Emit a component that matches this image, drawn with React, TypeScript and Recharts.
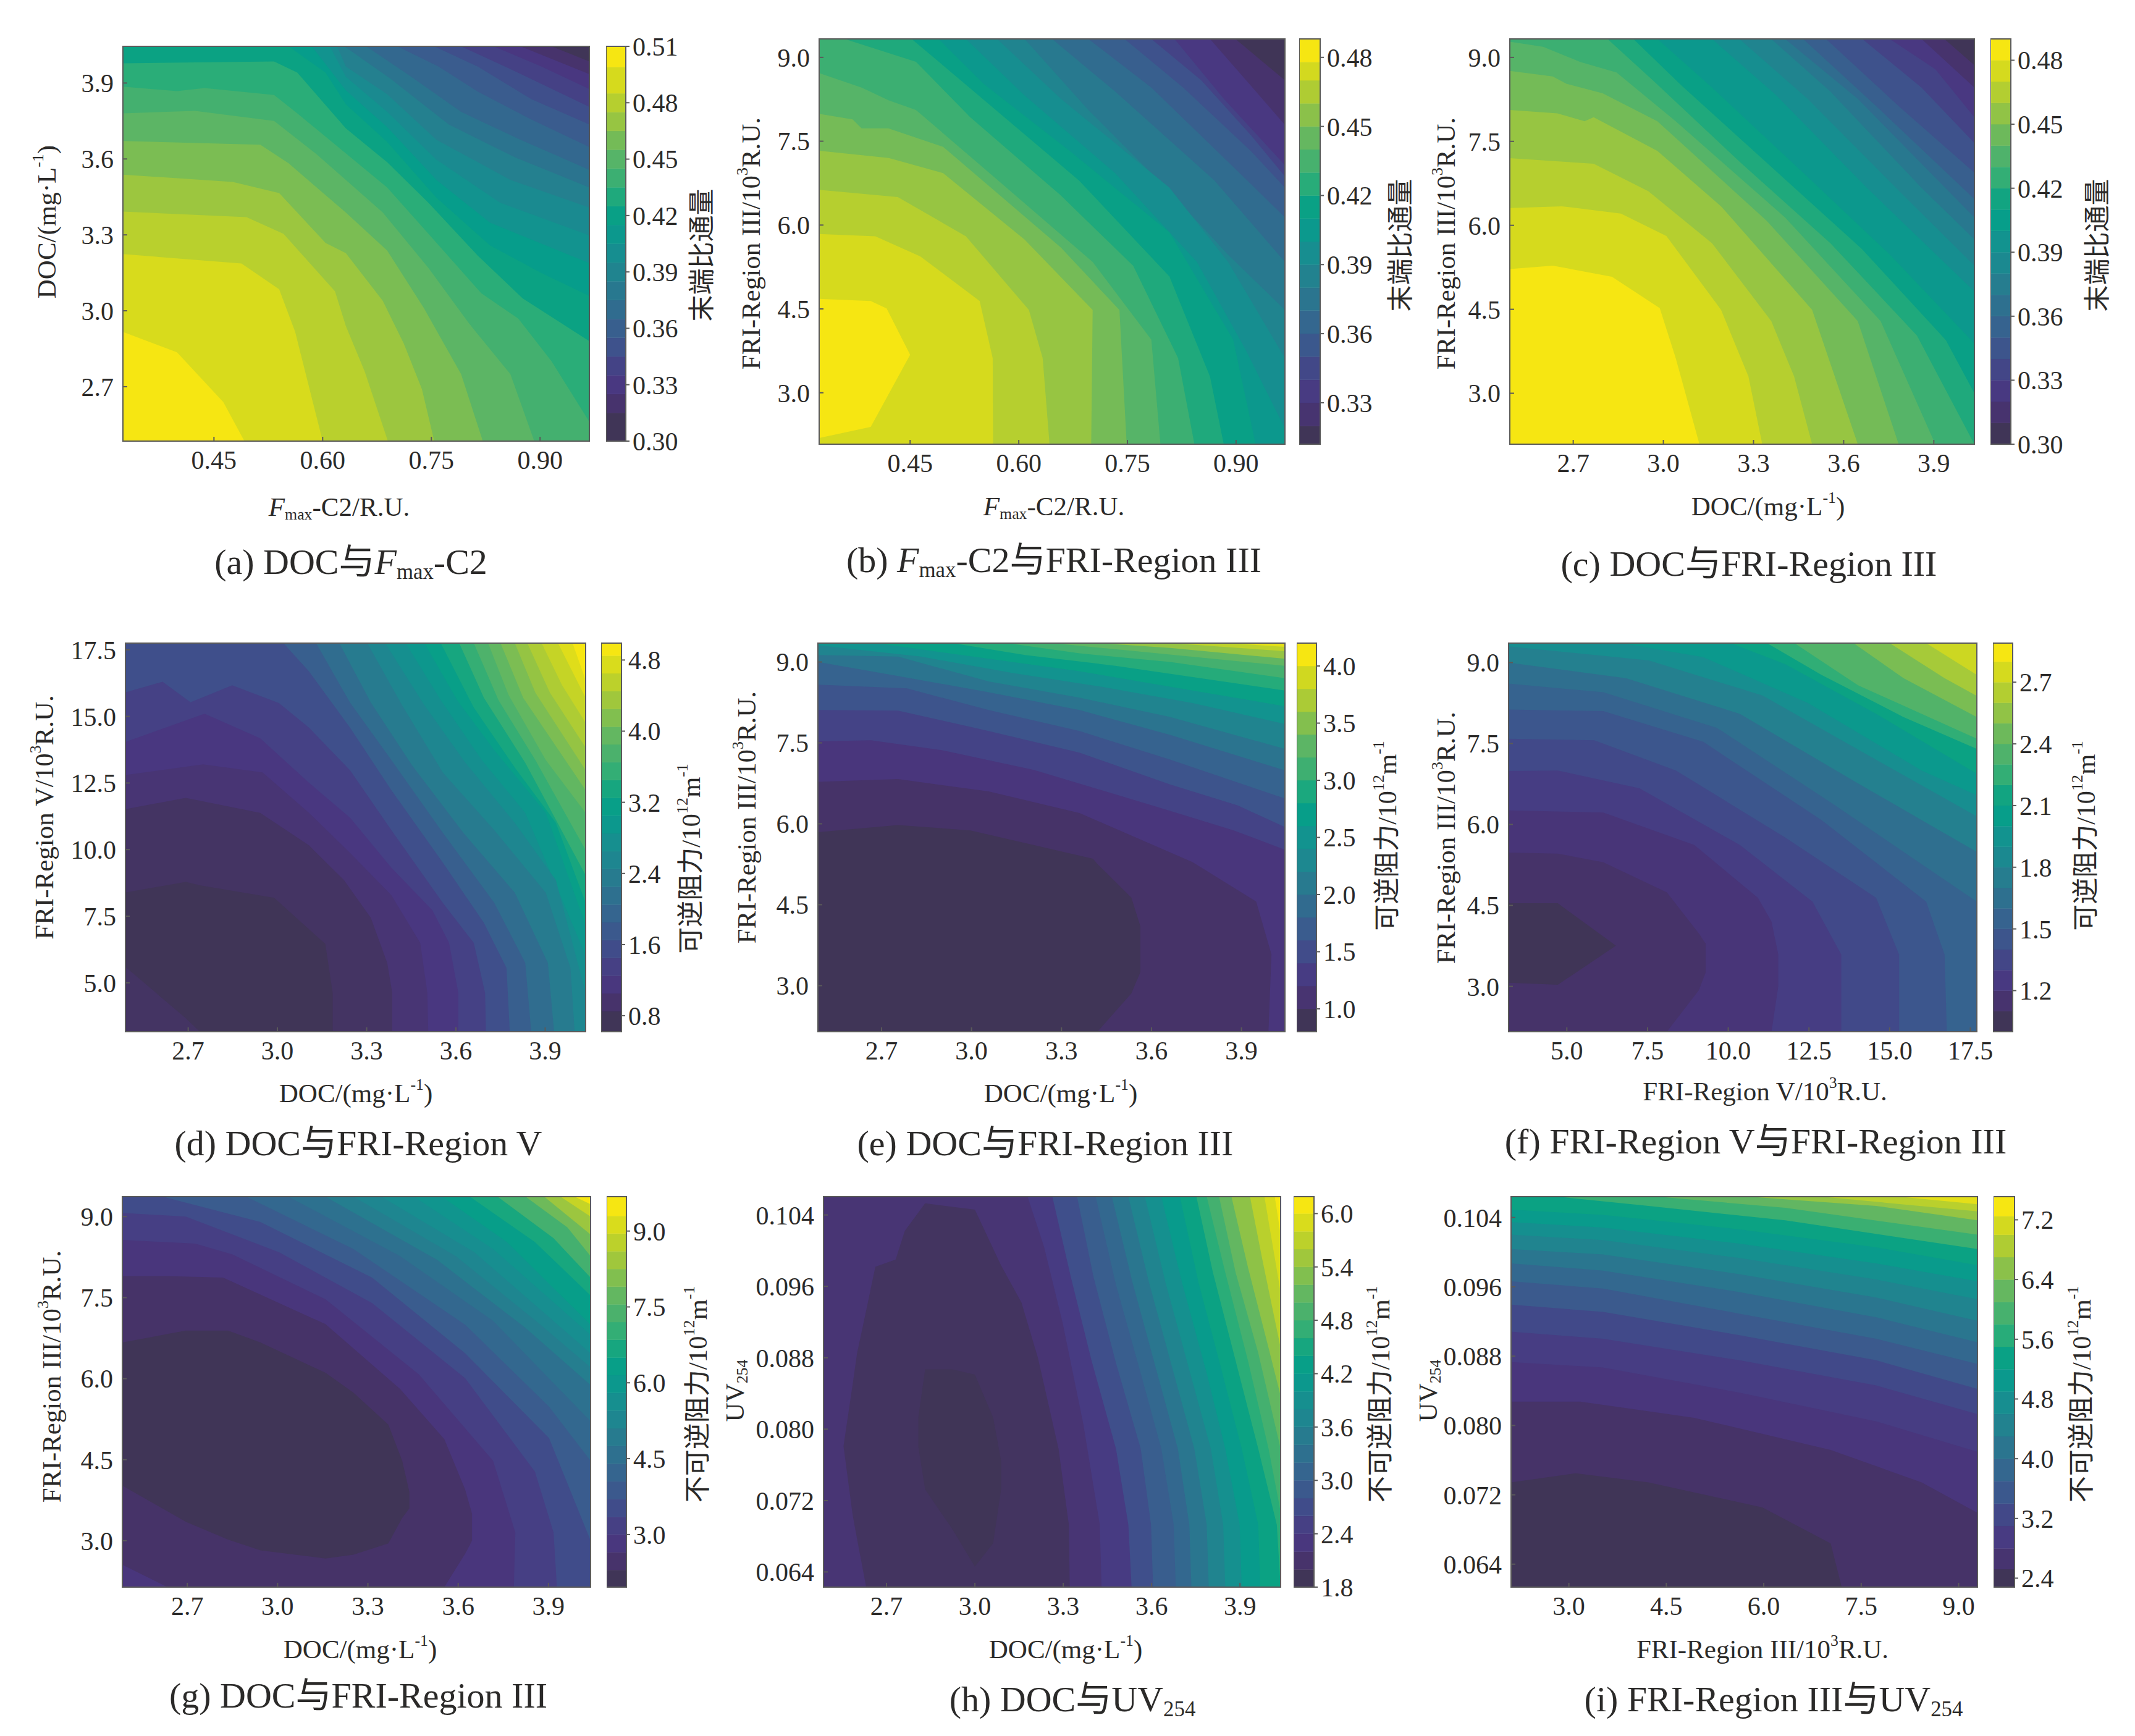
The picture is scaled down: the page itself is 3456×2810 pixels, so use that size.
import React from "react";
import { Area, ComposedChart, ReferenceArea, XAxis, YAxis } from "recharts";

// each curve is a list of [x, y] or [x, low, high]
// curves[0] is drawn last, the last entry of levels colours the plot background
type Curve = number[][];

const ticksFmaxX = [0.45, 0.6, 0.75, 0.9];
const ticksDocX = [2.7, 3.0, 3.3, 3.6, 3.9];
const ticksFri3 = [3.0, 4.5, 6.0, 7.5, 9.0];
const ticksFri5 = [5.0, 7.5, 10.0, 12.5, 15.0, 17.5];
const ticksUv = [0.064, 0.072, 0.08, 0.088, 0.096, 0.104];

// (a)
const ticksAY = [2.7, 3.0, 3.3, 3.6, 3.9];
const barTicksA = [0.3, 0.33, 0.36, 0.39, 0.42, 0.45, 0.48, 0.51];
const edgesA = [0.3, 0.315, 0.325, 0.335, 0.345, 0.355, 0.365, 0.375, 0.385, 0.395, 0.405, 0.415, 0.425, 0.435, 0.445, 0.455, 0.465, 0.475, 0.485, 0.499, 0.51];
const levelsA = [0.51, 0.4995, 0.489, 0.4785, 0.468, 0.4575, 0.447, 0.4365, 0.426, 0.4155, 0.405, 0.3945, 0.384, 0.3735, 0.363, 0.3525, 0.342, 0.3315, 0.321, 0.3105, 0.3];
const curvesA: Curve[] = [
  [[0.324, 2.917], [0.399, 2.836], [0.463, 2.639], [0.492, 2.485]],
  [[0.324, 3.224], [0.488, 3.187], [0.54, 3.085], [0.562, 2.917], [0.6, 2.485]],
  [[0.324, 3.392], [0.495, 3.37], [0.546, 3.304], [0.617, 3.077], [0.632, 2.94], [0.658, 2.76], [0.69, 2.485]],
  [[0.324, 3.538], [0.476, 3.509], [0.54, 3.465], [0.604, 3.268], [0.632, 3.228], [0.683, 3.039], [0.712, 2.87], [0.737, 2.69], [0.754, 2.485]],
  [[0.324, 3.671], [0.514, 3.656], [0.553, 3.583], [0.632, 3.388], [0.689, 3.238], [0.74, 3.009], [0.791, 2.75], [0.821, 2.485]],
  [[0.324, 3.78], [0.424, 3.79], [0.533, 3.75], [0.591, 3.62], [0.632, 3.517], [0.683, 3.388], [0.746, 3.169], [0.802, 2.95], [0.859, 2.75], [0.892, 2.485]],
  [[0.324, 3.886], [0.399, 3.868], [0.437, 3.88], [0.533, 3.853], [0.565, 3.78], [0.632, 3.622], [0.689, 3.487], [0.751, 3.288], [0.819, 3.069], [0.87, 2.969], [0.916, 2.8], [0.968, 2.561]],
  [[0.324, 3.978], [0.533, 3.985], [0.565, 3.941], [0.632, 3.721], [0.689, 3.587], [0.746, 3.427], [0.814, 3.218], [0.876, 3.049], [0.968, 2.88]],
  [[0.553, 4.045], [0.604, 3.941], [0.632, 3.816], [0.689, 3.667], [0.757, 3.447], [0.831, 3.258], [0.902, 3.149], [0.968, 3.059]],
  [[0.585, 4.045], [0.632, 3.871], [0.689, 3.726], [0.757, 3.517], [0.831, 3.348], [0.968, 3.188]],
  [[0.61, 4.045], [0.632, 3.925], [0.689, 3.786], [0.757, 3.597], [0.845, 3.427], [0.968, 3.298]],
  [[0.62, 4.045], [0.632, 3.965], [0.689, 3.856], [0.757, 3.676], [0.859, 3.517], [0.968, 3.408]],
  [[0.63, 4.045], [0.694, 3.916], [0.774, 3.736], [0.865, 3.607], [0.968, 3.487]],
  [[0.66, 4.045], [0.717, 3.935], [0.791, 3.786], [0.873, 3.676], [0.968, 3.557]],
  [[0.703, 4.045], [0.76, 3.965], [0.814, 3.866], [0.888, 3.756], [0.968, 3.647]],
  [[0.754, 4.045], [0.814, 3.965], [0.888, 3.836], [0.968, 3.736]],
  [[0.791, 4.045], [0.859, 3.955], [0.968, 3.806]],
  [[0.836, 4.045], [0.902, 3.965], [0.968, 3.876]],
  [[0.873, 4.045], [0.968, 3.935]],
  [[0.916, 4.045], [0.968, 3.985]],
];

// (b)
const barTicksB = [0.33, 0.36, 0.39, 0.42, 0.45, 0.48];
const edgesB = [0.312, 0.32, 0.33, 0.34, 0.35, 0.36, 0.37, 0.38, 0.39, 0.4, 0.41, 0.42, 0.43, 0.44, 0.45, 0.46, 0.47, 0.478, 0.488];
const levelsB = [0.488, 0.4787, 0.4695, 0.4602, 0.451, 0.4417, 0.4324, 0.4232, 0.4139, 0.4047, 0.3954, 0.3861, 0.3769, 0.3676, 0.3584, 0.3491, 0.3398, 0.3306, 0.3213, 0.312];
const curvesB: Curve[] = [
  [[0.3244, 2.19, 4.68], [0.3956, 2.39, 4.64], [0.4175, 2.91, 4.51], [0.45, 3.68, 3.68]],
  [[0.3244, 5.84], [0.402, 5.8], [0.464, 5.44], [0.546, 4.64], [0.564, 3.62], [0.5645, 2.08]],
  [[0.3244, 6.63], [0.433, 6.5], [0.527, 5.8], [0.614, 4.48], [0.633, 3.62], [0.6425, 2.08]],
  [[0.3244, 7.33], [0.4206, 7.2], [0.4956, 6.93], [0.608, 5.74], [0.702, 4.48], [0.7, 2.08]],
  [[0.3244, 7.99], [0.3706, 7.89], [0.383, 7.73], [0.42, 7.73], [0.4956, 7.4], [0.658, 5.6], [0.739, 4.48], [0.749, 2.08]],
  [[0.3244, 8.72], [0.383, 8.46], [0.4206, 8.23], [0.458, 8.06], [0.583, 6.67], [0.702, 5.34], [0.783, 3.95], [0.7956, 2.08]],
  [[0.3594, 9.33], [0.458, 8.92], [0.533, 7.93], [0.658, 6.53], [0.758, 5.27], [0.82, 3.62], [0.8425, 2.08]],
  [[0.452, 9.33], [0.508, 8.72], [0.683, 6.8], [0.808, 5.08], [0.864, 3.29], [0.883, 2.08]],
  [[0.489, 9.33], [0.552, 8.52], [0.67, 7.33], [0.808, 5.87], [0.896, 3.95], [0.927, 2.08]],
  [[0.527, 9.33], [0.608, 8.32], [0.733, 6.93], [0.846, 5.34], [0.914, 3.75], [0.9675, 2.36]],
  [[0.57, 9.33], [0.658, 8.26], [0.808, 6.67], [0.889, 5.34], [0.9675, 3.62]],
  [[0.608, 9.33], [0.696, 8.06], [0.808, 6.6], [0.889, 5.47], [0.9675, 4.48]],
  [[0.646, 9.33], [0.733, 8.39], [0.87, 6.8], [0.9675, 5.34]],
  [[0.696, 9.33], [0.783, 8.46], [0.889, 7.13], [0.9675, 6.14]],
  [[0.746, 9.33], [0.827, 8.46], [0.92, 7.33], [0.9675, 6.67]],
  [[0.783, 9.33], [0.852, 8.59], [0.921, 7.6], [0.9675, 6.87]],
  [[0.815, 9.33], [0.883, 8.26], [0.9675, 7.07]],
  [[0.864, 9.33], [0.914, 8.59], [0.9675, 7.79]],
  [[0.899, 9.33], [0.9675, 8.59]],
];

// (c)
const barTicksC = [0.3, 0.33, 0.36, 0.39, 0.42, 0.45, 0.48];
const edgesC = [0.3, 0.31, 0.32, 0.33, 0.34, 0.35, 0.36, 0.37, 0.38, 0.39, 0.4, 0.41, 0.42, 0.43, 0.44, 0.45, 0.46, 0.47, 0.48, 0.49];
const levelsC = [0.49, 0.48, 0.47, 0.46, 0.45, 0.44, 0.43, 0.42, 0.41, 0.4, 0.39, 0.38, 0.37, 0.36, 0.35, 0.34, 0.33, 0.32, 0.31, 0.3];
const curvesC: Curve[] = [
  [[2.489, 5.22], [2.632, 5.28], [2.829, 5.08], [2.988, 4.52], [3.041, 3.63], [3.12, 2.09]],
  [[2.489, 6.31], [2.662, 6.34], [2.859, 6.21], [3.01, 5.81], [3.192, 4.49], [3.283, 3.3], [3.329, 2.09]],
  [[2.489, 7.2], [2.768, 7.1], [2.95, 6.61], [3.162, 5.68], [3.359, 4.29], [3.435, 3.3], [3.495, 2.09]],
  [[2.489, 8.06], [2.647, 8.0], [2.738, 7.86], [2.768, 7.93], [2.98, 7.33], [3.192, 6.34], [3.495, 4.49], [3.647, 2.09]],
  [[2.489, 8.76], [2.632, 8.66], [2.677, 8.53], [2.798, 8.36], [2.98, 7.86], [3.344, 6.08], [3.647, 4.29], [3.783, 2.09]],
  [[2.489, 9.28], [2.6, 9.19], [2.723, 8.92], [2.844, 8.73], [3.041, 7.86], [3.405, 6.14], [3.723, 4.29], [3.905, 2.09]],
  [[2.814, 9.33], [2.965, 8.59], [3.253, 7.14], [3.556, 5.68], [3.844, 4.03], [4.035, 2.09]],
  [[2.9, 9.33], [3.06, 8.5], [3.36, 7.04], [3.66, 5.58], [3.94, 3.95], [4.035, 3.0]],
  [[2.98, 9.33], [3.162, 8.46], [3.465, 6.94], [3.753, 5.48], [4.035, 3.89]],
  [[3.162, 9.33], [3.374, 8.33], [3.677, 6.67], [4.035, 4.82]],
  [[3.253, 9.33], [3.48, 8.26], [3.798, 6.54], [4.035, 5.28]],
  [[3.359, 9.33], [3.556, 8.39], [3.859, 6.67], [4.035, 5.75]],
  [[3.405, 9.33], [3.647, 8.26], [4.035, 6.14]],
  [[3.465, 9.33], [3.708, 8.13], [4.035, 6.47]],
  [[3.541, 9.33], [3.783, 8.13], [4.035, 6.94]],
  [[3.662, 9.33], [3.859, 8.46], [4.035, 7.47]],
  [[3.753, 9.33], [3.905, 8.79], [4.035, 7.93]],
  [[3.859, 9.33], [4.035, 8.46]],
  [[3.935, 9.33], [4.035, 8.86]],
];

// (d)
const barTicksD = [0.8, 1.6, 2.4, 3.2, 4.0, 4.8];
const edgesD = [0.62, 0.85, 1.05, 1.25, 1.45, 1.65, 1.85, 2.05, 2.25, 2.45, 2.65, 2.85, 3.05, 3.25, 3.45, 3.65, 3.85, 4.05, 4.25, 4.45, 4.65, 4.85, 4.99];
const levelsD = [0.62, 0.75, 0.93, 1.06, 1.28, 1.49, 1.76, 2.02, 2.28, 2.5, 2.72, 2.89, 3.11, 3.33, 3.55, 3.77, 3.94, 4.12, 4.29, 4.47, 4.64, 4.82, 4.99];
const curvesD: Curve[] = [
  [[2.489, 5.6, 8.39], [2.692, 3.67, 8.79], [2.739, 3.165, 8.66], [2.989, 3.165, 8.19], [3.161, 3.165, 6.46], [3.186, 3.165, 4.6]],
  [[2.489, 11.52], [2.692, 11.94], [2.942, 11.38], [3.106, 10.16], [3.224, 8.85], [3.314, 7.44], [3.369, 5.75], [3.386, 4.62], [3.386, 3.165]],
  [[2.489, 12.8], [2.75, 13.2], [2.95, 12.9], [3.106, 11.38], [3.244, 9.88], [3.383, 8.29], [3.48, 6.5], [3.504, 4.62], [3.507, 3.165]],
  [[2.489, 14.04], [2.755, 15.1], [2.942, 14.18], [3.106, 12.51], [3.244, 11.2], [3.383, 9.32], [3.521, 7.72], [3.577, 6.5], [3.608, 4.62], [3.608, 3.165]],
  [[2.489, 15.9], [2.614, 16.3], [2.708, 15.53], [2.848, 16.17], [3.005, 15.5], [3.106, 14.58], [3.244, 12.98], [3.383, 10.73], [3.556, 8.0], [3.66, 6.5], [3.698, 4.62], [3.701, 3.165]],
  [[3.02, 17.75], [3.106, 16.69], [3.244, 14.58], [3.383, 12.23], [3.556, 9.51], [3.694, 7.25], [3.77, 5.56], [3.781, 3.165]],
  [[3.13, 17.75], [3.244, 15.52], [3.383, 13.36], [3.556, 10.63], [3.729, 8.0], [3.833, 5.75], [3.853, 3.165]],
  [[3.208, 17.75], [3.314, 15.52], [3.452, 13.17], [3.625, 10.63], [3.798, 8.38], [3.909, 5.75], [3.93, 3.165]],
  [[3.302, 17.75], [3.419, 15.42], [3.556, 12.89], [3.729, 10.73], [3.902, 8.38], [3.985, 5.56], [3.999, 3.165]],
  [[3.362, 17.75], [3.494, 15.42], [3.632, 13.26], [3.798, 11.0], [3.936, 8.85], [4.036, 4.62]],
  [[3.431, 17.75], [3.549, 15.61], [3.687, 13.36], [3.833, 11.38], [4.036, 6.03]],
  [[3.494, 17.75], [3.604, 15.61], [3.729, 13.73], [3.902, 11.38], [4.036, 7.16]],
  [[3.549, 17.75], [3.66, 15.33], [3.798, 13.08], [3.936, 11.0], [4.036, 8.0]],
  [[3.611, 17.75], [3.694, 15.7], [3.833, 13.26], [4.036, 9.04]],
  [[3.66, 17.75], [3.743, 15.61], [3.867, 13.36], [4.036, 9.98]],
  [[3.708, 17.75], [3.777, 15.8], [3.902, 13.36], [4.036, 11.38]],
  [[3.75, 17.75], [3.826, 15.7], [4.036, 12.23]],
  [[3.798, 17.75], [3.867, 15.89], [4.036, 12.98]],
  [[3.84, 17.75], [3.916, 15.89], [4.036, 13.83]],
  [[3.888, 17.75], [3.957, 16.17], [4.036, 14.76]],
  [[3.943, 17.75], [4.036, 15.7]],
  [[3.992, 17.75], [4.036, 16.36]],
];

// (e)
const barTicksE = [1.0, 1.5, 2.0, 2.5, 3.0, 3.5, 4.0];
const edgesE = [0.8, 1.0, 1.2, 1.4, 1.6, 1.8, 2.0, 2.2, 2.4, 2.6, 2.8, 3.0, 3.2, 3.4, 3.6, 3.8, 4.0, 4.2];
const levelsE = [0.8, 0.94, 1.11, 1.34, 1.55, 1.75, 1.99, 2.23, 2.5, 2.77, 2.98, 3.18, 3.38, 3.66, 3.89, 4.1];
const curvesE: Curve[] = [
  [[2.488, 2.146, 5.845], [2.755, 2.146, 5.976], [2.997, 2.146, 5.878], [3.405, 2.146, 5.352], [3.42, 2.146, 5.254], [3.533, 2.855, 4.63], [3.563, 3.25, 4.1]],
  [[2.488, 6.78], [2.755, 6.83], [3.057, 6.6], [3.36, 6.2], [3.737, 5.29], [3.949, 4.56], [4.0, 3.58], [3.99, 2.146]],
  [[2.488, 7.53], [2.665, 7.55], [2.906, 7.36], [3.208, 7.0], [3.662, 6.24], [3.873, 5.88], [4.045, 5.52]],
  [[2.488, 8.11], [2.755, 8.1], [3.057, 7.72], [3.36, 7.32], [3.662, 6.73], [3.888, 6.34], [4.045, 5.94]],
  [[2.488, 8.58], [2.785, 8.51], [3.057, 8.11], [3.36, 7.72], [3.662, 7.19], [4.045, 6.47]],
  [[2.488, 9.0], [2.755, 8.74], [3.057, 8.44], [3.36, 8.11], [3.662, 7.65], [4.045, 6.99]],
  [[2.488, 9.13], [2.755, 9.1], [3.057, 8.64], [3.36, 8.34], [3.662, 7.98], [4.045, 7.39]],
  [[2.488, 9.31], [2.831, 9.1], [3.133, 8.8], [3.435, 8.54], [3.737, 8.24], [4.045, 7.85]],
  [[2.68, 9.35], [3.057, 9.06], [3.36, 8.83], [3.737, 8.47], [4.045, 8.18]],
  [[2.937, 9.35], [3.178, 9.13], [3.48, 8.93], [4.045, 8.47]],
  [[3.118, 9.35], [3.36, 9.16], [3.662, 9.0], [4.045, 8.7]],
  [[3.269, 9.35], [3.51, 9.22], [4.045, 8.93]],
  [[3.42, 9.35], [3.662, 9.26], [4.045, 9.06]],
  [[3.662, 9.35], [4.045, 9.2]],
  [[3.858, 9.35], [4.045, 9.28]],
];

// (f)
const barTicksF = [1.2, 1.5, 1.8, 2.1, 2.4, 2.7];
const edgesF = [1.0, 1.1, 1.2, 1.3, 1.4, 1.5, 1.6, 1.7, 1.8, 1.9, 2.0, 2.1, 2.2, 2.3, 2.4, 2.5, 2.6, 2.7, 2.8, 2.89];
const levelsF = [1.0, 1.08, 1.15, 1.25, 1.34, 1.43, 1.53, 1.62, 1.76, 1.89, 2.0, 2.13, 2.25, 2.38, 2.51, 2.64, 2.76];
const curvesF: Curve[] = [
  [[3.196, 3.066, 4.54], [4.72, 3.03, 4.54], [6.52, 3.755, 3.755]],
  [[3.196, 2.16, 5.48], [4.72, 2.16, 5.46], [6.13, 2.16, 5.3], [8.1, 2.16, 4.74], [9.09, 2.93, 3.98], [9.3, 3.26, 3.79]],
  [[3.196, 2.16, 6.26], [6.13, 2.16, 6.22], [8.95, 2.16, 5.62], [10.92, 2.16, 4.64], [11.34, 2.16, 4.2], [11.55, 3.0, 3.59]],
  [[3.196, 6.99], [4.72, 7.0], [7.25, 6.67], [10.36, 5.62], [12.61, 4.57], [13.5, 3.59], [13.5, 2.16]],
  [[3.196, 7.59], [5.85, 7.56], [8.38, 7.0], [11.76, 5.76], [14.58, 4.64], [15.29, 3.59], [15.29, 2.16]],
  [[3.196, 8.13], [6.13, 8.1], [9.23, 7.53], [12.89, 6.08], [16.13, 4.57], [16.7, 3.59], [16.77, 2.16]],
  [[3.196, 8.61], [6.13, 8.45], [9.65, 7.79], [13.17, 6.41], [17.7, 4.57]],
  [[3.196, 9.0], [6.83, 8.71], [10.36, 8.05], [13.88, 6.81], [17.7, 5.49]],
  [[3.196, 9.3], [7.54, 9.04], [11.06, 8.39], [14.58, 7.2], [17.7, 6.15]],
  [[6.69, 9.36], [9.23, 9.1], [12.47, 8.25], [15.99, 7.0], [17.7, 6.54]],
  [[10.07, 9.36], [11.76, 8.97], [14.58, 8.05], [17.7, 6.94]],
  [[11.2, 9.36], [12.89, 8.77], [15.43, 7.99], [17.7, 7.4]],
  [[12.05, 9.36], [14.02, 8.58], [15.99, 8.05], [17.7, 7.59]],
  [[13.88, 9.36], [15.43, 8.71], [17.7, 7.99]],
  [[15.0, 9.36], [16.7, 8.71], [17.7, 8.38]],
  [[16.13, 9.36], [17.7, 8.77]],
];

// (g)
const barTicksG = [3.0, 4.5, 6.0, 7.5, 9.0];
const edgesG = [1.96, 2.3, 2.65, 3.0, 3.35, 3.7, 4.05, 4.4, 4.75, 5.1, 5.45, 5.8, 6.15, 6.5, 6.85, 7.2, 7.55, 7.9, 8.25, 8.6, 8.95, 9.3, 9.68];
const levelsG = [1.96, 2.27, 2.65, 3.04, 3.43, 3.89, 4.28, 4.58, 4.97, 5.28, 5.59, 5.9, 6.28, 6.75, 7.36, 7.98, 8.52, 9.06, 9.68];
const curvesG: Curve[] = [
  [[2.484, 4.02, 6.67], [2.695, 3.35, 6.89], [2.835, 3.02, 6.89], [2.943, 2.82, 6.67], [3.159, 2.67, 6.11], [3.252, 2.74, 5.74], [3.368, 2.95, 5.15], [3.414, 3.42, 4.48], [3.438, 3.6, 3.9]],
  [[2.484, 2.555, 7.9], [2.634, 2.14, 7.9], [2.819, 2.14, 7.87], [3.159, 2.14, 7.01], [3.407, 2.14, 5.81], [3.554, 2.14, 4.88], [3.623, 2.754, 3.95], [3.646, 3.0, 3.5]],
  [[2.484, 8.57], [2.726, 8.5], [2.85, 8.3], [3.159, 7.47], [3.469, 6.08], [3.716, 4.48], [3.79, 3.15], [3.785, 2.14]],
  [[2.484, 9.07], [2.695, 9.0], [3.005, 8.34], [3.314, 7.4], [3.623, 6.01], [3.855, 4.28], [3.917, 3.15], [3.928, 2.14]],
  [[2.618, 9.37], [2.943, 8.9], [3.314, 7.87], [3.623, 6.47], [3.902, 4.9], [4.04, 3.0]],
  [[2.896, 9.37], [3.252, 8.4], [3.623, 7.0], [3.902, 5.48], [4.04, 4.48]],
  [[3.036, 9.37], [3.407, 8.27], [3.716, 7.07], [4.04, 5.21]],
  [[3.159, 9.37], [3.53, 8.2], [3.824, 6.94], [4.04, 5.88]],
  [[3.252, 9.37], [3.592, 8.27], [3.871, 7.01], [4.04, 6.21]],
  [[3.345, 9.37], [3.654, 8.34], [3.902, 7.14], [4.04, 6.47]],
  [[3.453, 9.37], [3.716, 8.4], [4.04, 6.81]],
  [[3.546, 9.37], [3.762, 8.53], [4.04, 7.0]],
  [[3.639, 9.37], [3.855, 8.53], [4.04, 7.54]],
  [[3.731, 9.37], [3.917, 8.6], [4.04, 7.87]],
  [[3.824, 9.37], [3.963, 8.8], [4.04, 8.27]],
  [[3.886, 9.37], [4.04, 8.67]],
  [[3.94, 9.37], [4.04, 9.0]],
  [[3.987, 9.37], [4.04, 9.23]],
];

// (h)
const barTicksH = [1.8, 2.4, 3.0, 3.6, 4.2, 4.8, 5.4, 6.0];
const edgesH = [1.8, 2.0, 2.2, 2.4, 2.6, 2.8, 3.0, 3.2, 3.4, 3.6, 3.8, 4.0, 4.2, 4.4, 4.6, 4.8, 5.0, 5.2, 5.4, 5.6, 5.8, 6.0, 6.19];
const levelsH = [1.8, 1.89, 2.11, 2.33, 2.68, 2.94, 3.12, 3.38, 3.64, 3.91, 4.17, 4.43, 4.65, 4.87, 5.14, 5.44, 5.75, 5.97, 6.19];
const curvesH: Curve[] = [
  [[2.808, 0.07807, 0.08129], [2.831, 0.07325, 0.08671], [2.923, 0.06882, 0.08671], [3.0, 0.0646, 0.08611], [3.062, 0.06722, 0.08129], [3.089, 0.07325, 0.07646]],
  [[2.554, 0.0781, 0.0781], [2.585, 0.0704, 0.085], [2.6, 0.0677, 0.0885], [2.631, 0.0623, 0.0933], [2.662, 0.0623, 0.0982], [2.731, 0.0623, 0.099], [2.762, 0.0623, 0.1022], [2.831, 0.0623, 0.1053], [3.0, 0.0623, 0.1046], [3.088, 0.0623, 0.0984], [3.158, 0.0623, 0.0942], [3.214, 0.0623, 0.088], [3.284, 0.0623, 0.0778], [3.319, 0.0623, 0.0693], [3.322, 0.0623, 0.0623]],
  [[3.179, 0.10605], [3.235, 0.1004], [3.298, 0.0919], [3.368, 0.0806], [3.424, 0.0693], [3.43, 0.0623]],
  [[3.263, 0.10605], [3.326, 0.09701], [3.396, 0.08769], [3.479, 0.0778], [3.521, 0.0693], [3.532, 0.0623]],
  [[3.347, 0.10605], [3.403, 0.09701], [3.479, 0.08741], [3.563, 0.0778], [3.598, 0.0693], [3.605, 0.0623]],
  [[3.41, 0.10605], [3.479, 0.09616], [3.563, 0.08627], [3.633, 0.0778], [3.675, 0.0693], [3.682, 0.0623]],
  [[3.465, 0.10605], [3.535, 0.09644], [3.619, 0.08627], [3.689, 0.0778], [3.728, 0.0693], [3.735, 0.0623]],
  [[3.521, 0.10605], [3.591, 0.09644], [3.675, 0.08627], [3.745, 0.0778], [3.787, 0.0693], [3.794, 0.0623]],
  [[3.577, 0.10605], [3.647, 0.09644], [3.731, 0.08627], [3.801, 0.0778], [3.843, 0.0693], [3.85, 0.0623]],
  [[3.633, 0.10605], [3.703, 0.09644], [3.787, 0.08627], [3.85, 0.0778], [3.899, 0.0693], [3.906, 0.0623]],
  [[3.696, 0.10605], [3.759, 0.09644], [3.829, 0.08769], [3.906, 0.0778], [3.962, 0.0693], [3.969, 0.0623]],
  [[3.752, 0.10605], [3.808, 0.09757], [3.885, 0.08769], [3.962, 0.0778], [4.025, 0.0693], [4.038, 0.0623]],
  [[3.787, 0.10605], [3.85, 0.09757], [3.927, 0.08769], [3.997, 0.0778], [4.038, 0.07074]],
  [[3.829, 0.10605], [3.885, 0.09757], [3.962, 0.08854], [4.038, 0.0778]],
  [[3.871, 0.10605], [3.927, 0.09814], [3.997, 0.0891], [4.038, 0.08373]],
  [[3.934, 0.10605], [3.976, 0.09899], [4.038, 0.0891]],
  [[3.983, 0.10605], [4.038, 0.09532]],
  [[4.018, 0.10605], [4.038, 0.10181]],
];

// (i)
const barTicksI = [2.4, 3.2, 4.0, 4.8, 5.6, 6.4, 7.2];
const edgesI = [2.28, 2.52, 2.8, 3.1, 3.4, 3.7, 4.0, 4.3, 4.6, 4.9, 5.2, 5.5, 5.8, 6.1, 6.4, 6.7, 7.0, 7.25, 7.51];
const levelsI = [2.28, 2.49, 2.75, 2.96, 3.22, 3.54, 3.85, 4.16, 4.48, 4.79, 5.1, 5.42, 5.84, 6.25, 6.67, 6.99, 7.35];
const curvesI: Curve[] = [
  [[2.11, 0.07344], [3.105, 0.07448], [4.226, 0.07344], [5.978, 0.07054], [7.03, 0.0664], [7.2, 0.06135]],
  [[2.11, 0.08276], [3.175, 0.08276], [4.927, 0.08089], [7.03, 0.07717], [8.43, 0.07344], [9.29, 0.06992]],
  [[2.11, 0.08731], [3.526, 0.08669], [5.628, 0.08379], [7.73, 0.08048], [9.29, 0.07696]],
  [[2.11, 0.09083], [3.526, 0.09], [5.628, 0.08752], [7.73, 0.08462], [9.29, 0.08131]],
  [[2.11, 0.09394], [3.526, 0.09311], [5.628, 0.09042], [7.73, 0.08752], [9.29, 0.08421]],
  [[2.11, 0.09663], [3.526, 0.0958], [5.628, 0.0929], [7.73, 0.09], [9.29, 0.0871]],
  [[2.11, 0.0987], [3.526, 0.09787], [5.628, 0.09539], [7.73, 0.09249], [9.29, 0.08959]],
  [[2.11, 0.10036], [3.526, 0.09973], [5.628, 0.09746], [7.73, 0.09477], [9.29, 0.09208]],
  [[2.11, 0.10201], [3.526, 0.10139], [5.628, 0.09932], [7.73, 0.09684], [9.29, 0.09456]],
  [[2.11, 0.10346], [3.526, 0.10284], [5.628, 0.10098], [7.73, 0.0987], [9.29, 0.09663]],
  [[2.11, 0.10491], [3.526, 0.10429], [5.628, 0.10263], [7.73, 0.10056], [9.29, 0.09849]],
  [[2.825, 0.1064], [4.226, 0.10533], [6.33, 0.10367], [9.29, 0.10036]],
  [[4.366, 0.1064], [6.33, 0.10512], [9.29, 0.10201]],
  [[5.77, 0.1064], [7.73, 0.10533], [9.29, 0.10367]],
  [[6.89, 0.1064], [9.29, 0.1047]],
  [[8.09, 0.1064], [9.29, 0.10553]],
];

// ─── Colours ─────────────────────────────────────────────────────────────────

// viridis as it came out of the print conversion
const PALETTE = [
  "#403557", "#47336c", "#493780", "#454185", "#3f4f8b", "#3a5c8e", "#33688f",
  "#2b748f", "#24808f", "#1a8a90", "#12938f", "#069d8b", "#0ba283", "#2aad78",
  "#44b06f", "#5cb565", "#7bbd53", "#9cc63f", "#b9d02d", "#d8db1c", "#f6e612",
];

function mix(t: number): string {
  const pos = Math.min(Math.max(t, 0), 1) * (PALETTE.length - 1);
  const i = Math.min(Math.floor(pos), PALETTE.length - 2);
  const f = pos - i;
  const a = PALETTE[i];
  const b = PALETTE[i + 1];
  const ch = (s: string, k: number) => parseInt(s.slice(k, k + 2), 16);
  const c = [1, 3, 5].map((k) => Math.round(ch(a, k) + (ch(b, k) - ch(a, k)) * f));
  return `rgb(${c.join(",")})`;
}

// ─── Text ────────────────────────────────────────────────────────────────────

const FONT = '"Liberation Serif", "Noto Sans CJK SC", serif';
const INK = "#2b2a29";

type Part = string | { t: string; k: "i" | "sub" | "sup" };

function Rich({ x, y, size, parts, rotate }: { x: number; y: number; size: number; parts: Part[]; rotate?: boolean }) {
  let shift = 0;
  return (
    <text
      x={x}
      y={y}
      fontFamily={FONT}
      fontSize={size}
      fill={INK}
      textAnchor="middle"
      dominantBaseline="central"
      transform={rotate ? `rotate(-90 ${x} ${y})` : undefined}
    >
      {parts.map((p, i) => {
        const kind = typeof p === "string" ? "" : p.k;
        const text = typeof p === "string" ? p : p.t;
        const target = kind === "sub" ? size * 0.28 : kind === "sup" ? -size * 0.32 : 0;
        const dy = target - shift;
        shift = target;
        return (
          <tspan
            key={i}
            dy={dy}
            fontStyle={kind === "i" ? "italic" : undefined}
            fontSize={kind === "sub" || kind === "sup" ? size * 0.6 : size}
          >
            {text}
          </tspan>
        );
      })}
    </text>
  );
}

const DOC_TITLE: Part[] = ["DOC/(mg·L", { t: "-1", k: "sup" }, ")"];
const FMAX_TITLE: Part[] = [{ t: "F", k: "i" }, { t: "max", k: "sub" }, "-C2/R.U."];
const FRI3_TITLE: Part[] = ["FRI-Region III/10", { t: "3", k: "sup" }, "R.U."];
const FRI5_TITLE: Part[] = ["FRI-Region V/10", { t: "3", k: "sup" }, "R.U."];
const UV_TITLE: Part[] = ["UV", { t: "254", k: "sub" }];
const BAR_FLUX: Part[] = ["末端比通量"];
const BAR_REV: Part[] = ["可逆阻力/10", { t: "12", k: "sup" }, "m", { t: "-1", k: "sup" }];
const BAR_IRR: Part[] = ["不可逆阻力/10", { t: "12", k: "sup" }, "m", { t: "-1", k: "sup" }];

// ─── Panels ──────────────────────────────────────────────────────────────────

interface PanelDef {
  rect: number[]; // plot x, y, w, h
  bar: number[]; // colorbar x, w
  xDomain: number[];
  yDomain: number[];
  xTicks: number[];
  yTicks: number[];
  xDigits: number;
  yDigits: number;
  curves: Curve[];
  levels: number[];
  edges: number[];
  barTicks: number[];
  barDigits: number;
  xTitle: Part[];
  yTitle: Part[];
  barTitle: Part[];
  caption: Part[];
  xTitleAt: number[];
  yTitleAt: number[];
  barTitleAt: number[];
  captionAt: number[];
}

const PANELS: PanelDef[] = [
  {
    rect: [199, 75, 755, 639], bar: [981, 32],
    xDomain: [0.3244, 0.968], yDomain: [2.485, 4.045], xTicks: ticksFmaxX, yTicks: ticksAY, xDigits: 2, yDigits: 1,
    curves: curvesA, levels: levelsA, edges: edgesA, barTicks: barTicksA, barDigits: 2,
    xTitle: FMAX_TITLE, yTitle: DOC_TITLE, barTitle: BAR_FLUX,
    caption: ["(a) DOC与", { t: "F", k: "i" }, { t: "max", k: "sub" }, "-C2"],
    xTitleAt: [549, 820], yTitleAt: [75, 359], barTitleAt: [1136, 413], captionAt: [568, 909],
  },
  {
    rect: [1326, 63, 754, 656], bar: [2103, 34],
    xDomain: [0.3244, 0.9675], yDomain: [2.08, 9.33], xTicks: ticksFmaxX, yTicks: ticksFri3, xDigits: 2, yDigits: 1,
    curves: curvesB, levels: levelsB, edges: edgesB, barTicks: barTicksB, barDigits: 2,
    xTitle: FMAX_TITLE, yTitle: FRI3_TITLE, barTitle: BAR_FLUX,
    caption: ["(b) ", { t: "F", k: "i" }, { t: "max", k: "sub" }, "-C2与FRI-Region III"],
    xTitleAt: [1706, 819], yTitleAt: [1215, 394], barTitleAt: [2267, 397], captionAt: [1706, 906],
  },
  {
    rect: [2444, 63, 752, 656], bar: [3222, 33],
    xDomain: [2.489, 4.035], yDomain: [2.09, 9.33], xTicks: ticksDocX, yTicks: ticksFri3, xDigits: 1, yDigits: 1,
    curves: curvesC, levels: levelsC, edges: edgesC, barTicks: barTicksC, barDigits: 2,
    xTitle: DOC_TITLE, yTitle: FRI3_TITLE, barTitle: BAR_FLUX,
    caption: ["(c) DOC与FRI-Region III"],
    xTitleAt: [2862, 819], yTitleAt: [2340, 394], barTitleAt: [3395, 397], captionAt: [2831, 912],
  },
  {
    rect: [203, 1041, 745, 629], bar: [973, 33],
    xDomain: [2.489, 4.036], yDomain: [3.165, 17.75], xTicks: ticksDocX, yTicks: ticksFri5, xDigits: 1, yDigits: 1,
    curves: curvesD, levels: levelsD, edges: edgesD, barTicks: barTicksD, barDigits: 1,
    xTitle: DOC_TITLE, yTitle: FRI5_TITLE, barTitle: BAR_REV,
    caption: ["(d) DOC与FRI-Region V"],
    xTitleAt: [576, 1769], yTitleAt: [71, 1323], barTitleAt: [1118, 1390], captionAt: [580, 1850],
  },
  {
    rect: [1324, 1041, 756, 629], bar: [2099, 32],
    xDomain: [2.488, 4.045], yDomain: [2.146, 9.35], xTicks: ticksDocX, yTicks: ticksFri3, xDigits: 1, yDigits: 1,
    curves: curvesE, levels: levelsE, edges: edgesE, barTicks: barTicksE, barDigits: 1,
    xTitle: DOC_TITLE, yTitle: FRI3_TITLE, barTitle: BAR_REV,
    caption: ["(e) DOC与FRI-Region III"],
    xTitleAt: [1717, 1769], yTitleAt: [1208, 1323], barTitleAt: [2245, 1353], captionAt: [1692, 1850],
  },
  {
    rect: [2442, 1041, 758, 629], bar: [3226, 32],
    xDomain: [3.196, 17.7], yDomain: [2.16, 9.36], xTicks: ticksFri5, yTicks: ticksFri3, xDigits: 1, yDigits: 1,
    curves: curvesF, levels: levelsF, edges: edgesF, barTicks: barTicksF, barDigits: 1,
    xTitle: FRI5_TITLE, yTitle: FRI3_TITLE, barTitle: BAR_REV,
    caption: ["(f) FRI-Region V与FRI-Region III"],
    xTitleAt: [2857, 1766], yTitleAt: [2340, 1356], barTitleAt: [3376, 1353], captionAt: [2842, 1847],
  },
  {
    rect: [198, 1937, 758, 632], bar: [982, 32],
    xDomain: [2.484, 4.04], yDomain: [2.14, 9.37], xTicks: ticksDocX, yTicks: ticksFri3, xDigits: 1, yDigits: 1,
    curves: curvesG, levels: levelsG, edges: edgesG, barTicks: barTicksG, barDigits: 1,
    xTitle: DOC_TITLE, yTitle: FRI3_TITLE, barTitle: BAR_IRR,
    caption: ["(g) DOC与FRI-Region III"],
    xTitleAt: [583, 2669], yTitleAt: [83, 2228], barTitleAt: [1129, 2257], captionAt: [580, 2744],
  },
  {
    rect: [1333, 1937, 740, 632], bar: [2094, 33],
    xDomain: [2.486, 4.038], yDomain: [0.0623, 0.10605], xTicks: ticksDocX, yTicks: ticksUv, xDigits: 1, yDigits: 3,
    curves: curvesH, levels: levelsH, edges: edgesH, barTicks: barTicksH, barDigits: 1,
    xTitle: DOC_TITLE, yTitle: UV_TITLE, barTitle: BAR_IRR,
    caption: ["(h) DOC与UV", { t: "254", k: "sub" }],
    xTitleAt: [1725, 2669], yTitleAt: [1189, 2251], barTitleAt: [2234, 2257], captionAt: [1736, 2750],
  },
  {
    rect: [2446, 1937, 755, 632], bar: [3227, 34],
    xDomain: [2.11, 9.29], yDomain: [0.06135, 0.1064], xTicks: ticksFri3, yTicks: ticksUv, xDigits: 1, yDigits: 3,
    curves: curvesI, levels: levelsI, edges: edgesI, barTicks: barTicksI, barDigits: 1,
    xTitle: FRI3_TITLE, yTitle: UV_TITLE, barTitle: BAR_IRR,
    caption: ["(i) FRI-Region III与UV", { t: "254", k: "sub" }],
    xTitleAt: [2853, 2669], yTitleAt: [2311, 2251], barTitleAt: [3369, 2257], captionAt: [2871, 2750],
  },
];

const TICK = { fontSize: 42, fontFamily: FONT, fill: INK };
const BORDER = "#5a5a5a";
const Y_GUTTER = 150;
const X_GUTTER = 70;
const PAD = 40;

// one filled region, under the curve (or between low and high for a closed lobe)
function toRows(curve: Curve, xMin: number) {
  const rows = curve.map((p) => ({ x: p[0], y: p.length === 3 ? [p[1], p[2]] : p[1] }));
  if (curve[0].length === 2 && curve[0][0] > xMin) rows.unshift({ x: xMin, y: curve[0][1] });
  return rows;
}

function Contour({ p }: { p: PanelDef }) {
  const [px, py, pw, ph] = p.rect;
  const [xMin, xMax] = p.xDomain;
  const [yMin, yMax] = p.yDomain;
  const [vMin, vMax] = [p.edges[0], p.edges[p.edges.length - 1]];
  const colorOf = (v: number) => mix((v - vMin) / (vMax - vMin));
  const bg = p.levels[p.levels.length - 1];

  return (
    <div style={{ position: "absolute", left: px - Y_GUTTER, top: py - PAD }}>
      <ComposedChart
        width={pw + Y_GUTTER + PAD}
        height={ph + PAD + X_GUTTER}
        margin={{ top: PAD, right: PAD, bottom: 0, left: 0 }}
      >
        <XAxis
          type="number"
          dataKey="x"
          domain={[xMin, xMax]}
          ticks={p.xTicks}
          interval={0}
          allowDataOverflow
          height={X_GUTTER}
          axisLine={false}
          tickSize={-7}
          tickMargin={22}
          tickLine={{ stroke: BORDER, strokeWidth: 2 }}
          tick={TICK}
          tickFormatter={(v: number) => v.toFixed(p.xDigits)}
        />
        <YAxis
          type="number"
          domain={[yMin, yMax]}
          ticks={p.yTicks}
          interval={0}
          allowDataOverflow
          width={Y_GUTTER}
          axisLine={false}
          tickSize={-7}
          tickMargin={22}
          tickLine={{ stroke: BORDER, strokeWidth: 2 }}
          tick={TICK}
          tickFormatter={(v: number) => v.toFixed(p.yDigits)}
        />
        <Area
          data={[{ x: xMin, y: yMax }, { x: xMax, y: yMax }]}
          dataKey="y"
          type="linear"
          fill={colorOf(bg)}
          fillOpacity={1}
          stroke="none"
          dot={false}
          activeDot={false}
          isAnimationActive={false}
        />
        {p.curves
          .map((curve, i) => (
            <Area
              key={i}
              name={`level-${p.levels[i]}`}
              data={toRows(curve, xMin)}
              dataKey="y"
              type="linear"
              fill={colorOf(p.levels[i])}
              fillOpacity={1}
              stroke="none"
              dot={false}
              activeDot={false}
              isAnimationActive={false}
            />
          ))
          .reverse()}
        <ReferenceArea x1={xMin} x2={xMax} y1={yMin} y2={yMax} fill="none" stroke={BORDER} strokeWidth={2} ifOverflow="visible" />
      </ComposedChart>
    </div>
  );
}

function ColorBar({ p }: { p: PanelDef }) {
  const [, py, , ph] = p.rect;
  const [bx, bw] = p.bar;
  const top = p.edges[p.edges.length - 1];
  const bands = p.edges.slice(0, -1);
  return (
    <div style={{ position: "absolute", left: bx, top: py - PAD }}>
      <ComposedChart width={bw + 120} height={ph + PAD * 2} margin={{ top: PAD, right: 0, bottom: PAD, left: 0 }}>
        <XAxis type="number" dataKey="x" domain={[0, 1]} hide />
        <YAxis
          orientation="right"
          type="number"
          domain={[p.edges[0], top]}
          ticks={p.barTicks}
          interval={0}
          allowDataOverflow
          width={120}
          axisLine={false}
          tickSize={6}
          tickMargin={5}
          tickLine={{ stroke: BORDER, strokeWidth: 2 }}
          tick={TICK}
          tickFormatter={(v: number) => v.toFixed(p.barDigits)}
        />
        {bands.map((lo, i) => {
          const hi = p.edges[i + 1];
          const fill = mix(i / (bands.length - 1));
          return (
            <Area
              key={i}
              data={[{ x: 0, y: [lo, hi] }, { x: 1, y: [lo, hi] }]}
              dataKey="y"
              type="linear"
              fill={fill}
              fillOpacity={1}
              stroke={fill}
              strokeWidth={0.5}
              dot={false}
              activeDot={false}
              isAnimationActive={false}
            />
          );
        })}
        <ReferenceArea x1={0} x2={1} y1={p.edges[0]} y2={top} fill="none" stroke={BORDER} strokeWidth={2} ifOverflow="visible" />
      </ComposedChart>
    </div>
  );
}

export default function App() {
  return (
    <div style={{ position: "absolute", left: 0, top: 0, width: 3456, height: 2810, background: "#fff", overflow: "hidden" }}>
      {PANELS.map((p, i) => (
        <React.Fragment key={i}>
          <Contour p={p} />
          <ColorBar p={p} />
        </React.Fragment>
      ))}
      <svg width={3456} height={2810} style={{ position: "absolute", left: 0, top: 0, pointerEvents: "none" }}>
        {PANELS.map((p, i) => (
          <g key={i}>
            <Rich x={p.xTitleAt[0]} y={p.xTitleAt[1]} size={43} parts={p.xTitle} />
            <Rich x={p.yTitleAt[0]} y={p.yTitleAt[1]} size={43} parts={p.yTitle} rotate />
            <Rich x={p.barTitleAt[0]} y={p.barTitleAt[1]} size={43} parts={p.barTitle} rotate />
            <Rich x={p.captionAt[0]} y={p.captionAt[1]} size={58} parts={p.caption} />
          </g>
        ))}
      </svg>
    </div>
  );
}
